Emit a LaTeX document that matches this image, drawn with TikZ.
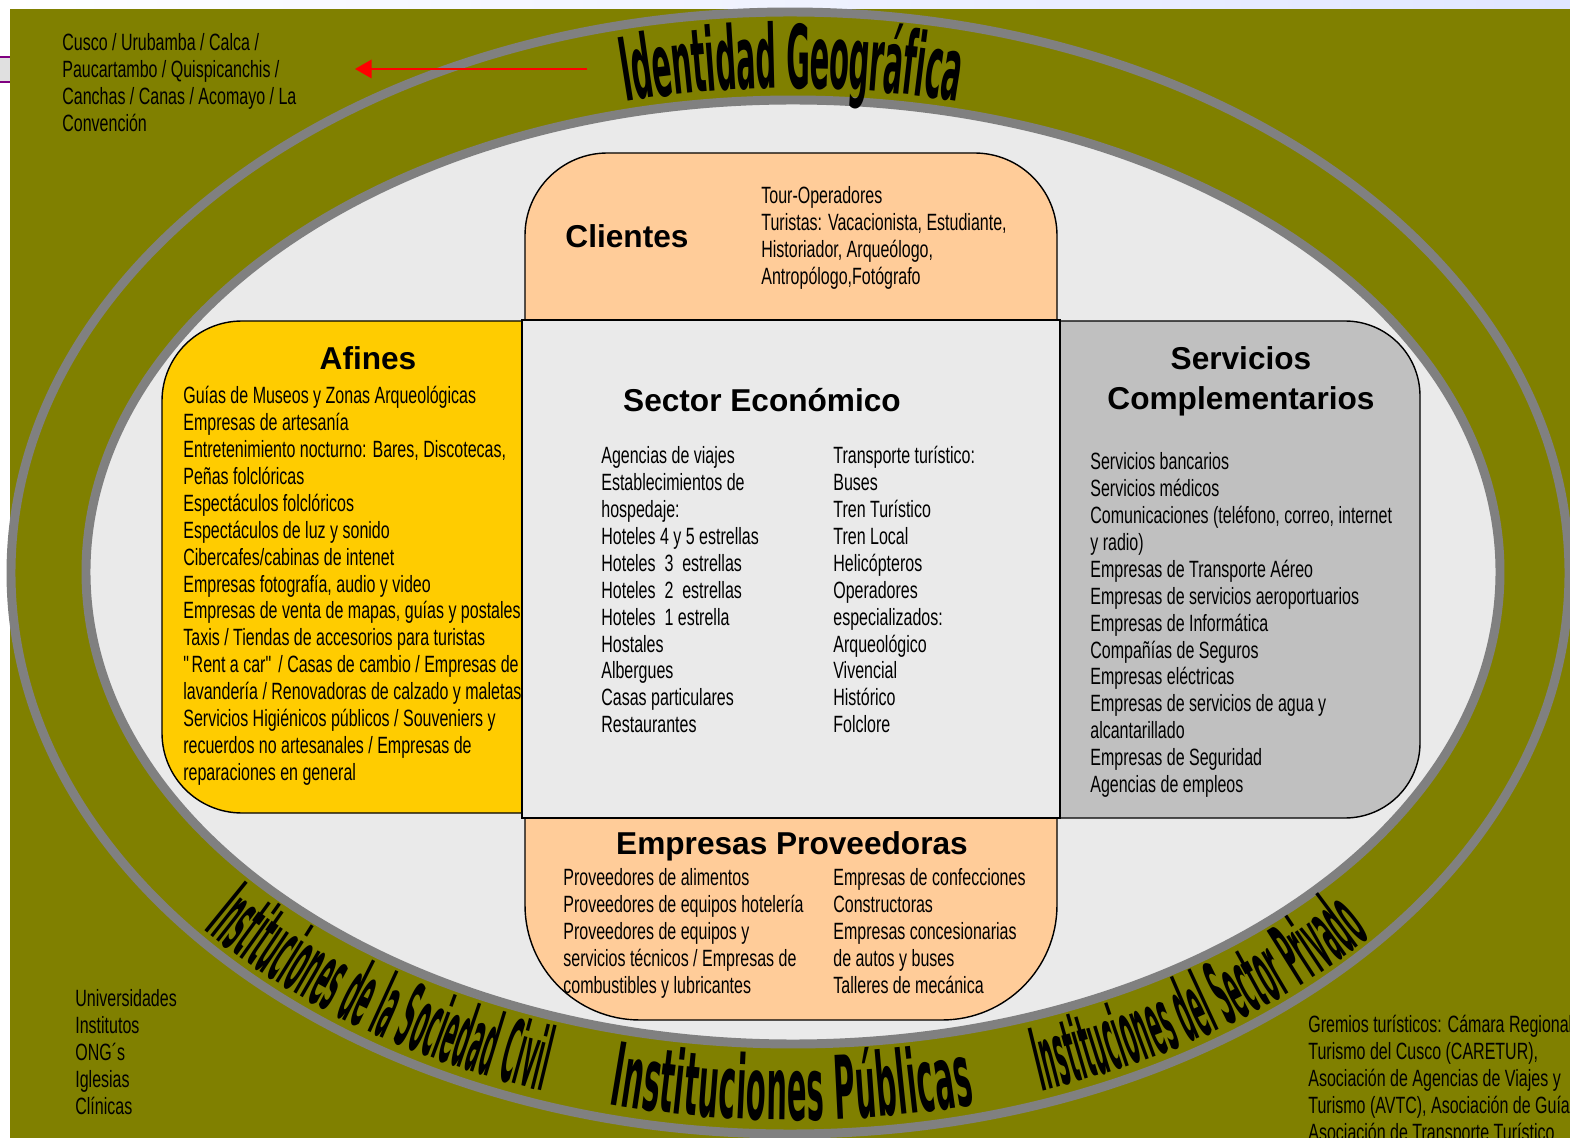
\documentclass[tikz,border=0pt]{standalone}
\usepackage{fontspec}
\setmainfont{Liberation Sans}[FakeStretch=0.68]
\newfontfamily\headfam{Liberation Sans}
\newfontfamily\artfam{DejaVu Sans}[FakeStretch=0.33]
\newfontfamily\artthin{DejaVu Sans}[FakeStretch=0.223]
\usetikzlibrary{decorations.text,arrows.meta}
\definecolor{olivo}{RGB}{128,128,0}
\definecolor{anillo}{RGB}{128,128,128}
\definecolor{fondo}{RGB}{234,234,234}
\definecolor{durazno}{RGB}{255,204,153}
\definecolor{oro}{RGB}{255,204,0}
\definecolor{plata}{RGB}{192,192,192}
\definecolor{lila}{RGB}{224,230,255}
\definecolor{violeta}{RGB}{128,0,128}
\tikzset{
  box/.style  = {draw=black, line width=0.8pt},
  ring/.style = {draw=anillo, line width=5.1pt},
  list/.style = {anchor=north west, align=left, inner sep=0,
    font=\fontsize{13.4}{15.31}\selectfont},
  head/.style = {align=center, inner sep=0,
    font=\headfam\bfseries\fontsize{18}{22.7}\selectfont},
  arte/.style = {decorate, decoration={text along path, text align=center, raise=-18pt}}
}
\newcommand{\wide}{\artfam\bfseries\fontsize{50}{50}\selectfont}
\newcommand{\thin}{\artthin\bfseries\fontsize{50}{50}\selectfont}

\begin{document}
\begin{tikzpicture}[x=0.02cm,y=-0.02cm]
  \useasboundingbox (0,0) rectangle (1570,1138);
  \shade[left color=white, right color=lila] (0,0) rectangle (1570,9);
  \filldraw[fill=black!12, draw=violeta, line width=1pt] (-5,57) rectangle (30,82);
  \fill[olivo] (10,9) rectangle (1570,1138);

  % anillos
  \draw[ring] (790,573) ellipse [x radius=779, y radius=561];
  \draw[ring, fill=fondo] (793,572) ellipse [x radius=707, y radius=472];

  % cajas
  \draw[box, fill=durazno, rounded corners=1.65cm] (525,153) rectangle (1057,420);
  \draw[box, fill=oro, rounded corners=1.6cm] (162,321) rectangle (600,813);
  \draw[box, fill=plata, rounded corners=1.5cm] (980,321) rectangle (1420,818);
  \draw[box, fill=durazno, rounded corners=2.3cm] (525,700) rectangle (1057,1020);
  \draw[box, fill=fondo] (522,320) rectangle (1060,818);

  % textos curvos
  \path[arte, decoration={text={|\wide|Identidad Geográfica}}]
    (791.5,572.5) ++(240:743 and 516) arc[start angle=240, end angle=300, x radius=743, y radius=516];
  \path[arte, decoration={text={|\wide|Instituciones Públicas}}]
    (791.5,572.5) ++(115:743 and 516) arc[start angle=115, end angle=65, x radius=743, y radius=516];
  \path[arte, decoration={text={|\thin|Instituciones de la Sociedad Civil}}]
    (791.5,572.5) ++(156:743 and 516) arc[start angle=156, end angle=96, x radius=743, y radius=516];
  \path[arte, decoration={text={|\thin|Instituciones del Sector Privado}}]
    (791.5,572.5) ++(84:743 and 516) arc[start angle=84, end angle=25, x radius=743, y radius=516];

  % titulos
  \node[head] (tcli) at (627,236) {Clientes};
  \node[head] (tafi) at (368,358) {Afines};
  \node[head] (tsec) at (762,400) {Sector Económico};
  \node[head] (tser) at (1241,381) {Servicios\\Complementarios};
  \node[head] (tpro) at (792,846) {Empresas Proveedoras};

  % listas
  \node[list] (cusco) at (62,31.6) {\strut Cusco / Urubamba / Calca /\\Paucartambo / Quispicanchis /\\
    Canchas / Canas / Acomayo / La\\Convención};
  \node[list] (cli) at (761,184.6) {\strut Tour-Operadores\\Turistas: Vacacionista, Estudiante,\\
    Historiador, Arqueólogo,\\Antropólogo,Fotógrafo};
  \node[list] (afi) at (183,384.6) {\strut Guías de Museos y Zonas Arqueológicas\\Empresas de artesanía\\
    Entretenimiento nocturno: Bares, Discotecas,\\Peñas folclóricas\\Espectáculos folclóricos\\
    Espectáculos de luz y sonido\\Cibercafes/cabinas de intenet\\Empresas fotografía, audio y video\\
    Empresas de venta de mapas, guías y postales\\Taxis / Tiendas de accesorios para turistas\\
    \textquotedbl Rent a car\textquotedbl{} / Casas de cambio / Empresas de\\lavandería / Renovadoras de calzado y maletas\\
    Servicios Higiénicos públicos / Souveniers y\\recuerdos no artesanales / Empresas de\\
    reparaciones en general};
  \node[list] (sec1) at (601,444.6) {\strut Agencias de viajes\\Establecimientos de\\hospedaje:\\
    Hoteles 4 y 5 estrellas\\Hoteles~~3~~estrellas\\Hoteles~~2~~estrellas\\Hoteles~~1 estrella\\
    Hostales\\Albergues\\Casas particulares\\Restaurantes};
  \node[list] (sec2) at (833,444.6) {\strut Transporte turístico:\\Buses\\Tren Turístico\\Tren Local\\
    Helicópteros\\Operadores\\especializados:\\Arqueológico\\Vivencial\\Histórico\\Folclore};
  \node[list] (ser) at (1090,450.6) {\strut Servicios bancarios\\Servicios médicos\\
    Comunicaciones (teléfono, correo, internet\\y radio)\\Empresas de Transporte Aéreo\\
    Empresas de servicios aeroportuarios\\Empresas de Informática\\Compañías de Seguros\\
    Empresas eléctricas\\Empresas de servicios de agua y\\alcantarillado\\Empresas de Seguridad\\
    Agencias de empleos};
  \node[list] (pro1) at (563,866.6) {\strut Proveedores de alimentos\\Proveedores de equipos hotelería\\
    Proveedores de equipos y\\servicios técnicos / Empresas de\\combustibles y lubricantes};
  \node[list] (pro2) at (833,866.6) {\strut Empresas de confecciones\\Constructoras\\
    Empresas concesionarias\\de autos y buses\\Talleres de mecánica};
  \node[list] (civ) at (75,987.6) {\strut Universidades\\Institutos\\ONG´s\\Iglesias\\Clínicas};
  \node[list] (priv) at (1308,1013.6) {\strut Gremios turísticos: Cámara Regional\\
    Turismo del Cusco (CARETUR),\\Asociación de Agencias de Viajes y\\
    Turismo (AVTC), Asociación de Guía\\Asociación de Transporte Turístico};

  % flecha
  \coordinate (geo) at (587,69);
  \coordinate (lugares) at (355,69);
  \draw[red, line width=1.2pt, -{Triangle[length=9.5pt,width=10.5pt]}] (geo) -- (lugares);
\end{tikzpicture}
\end{document}
